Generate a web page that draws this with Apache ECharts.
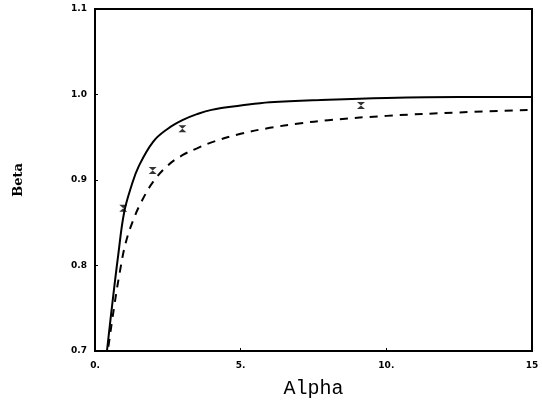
<!DOCTYPE html>
<html>
<head>
<meta charset="utf-8">
<script src="https://cdn.jsdelivr.net/npm/echarts@6/dist/echarts.min.js"></script>
<style>html,body{margin:0;padding:0;background:#fff;}#c{width:542px;height:404px;}</style>
</head>
<body>
<div id="c"></div>
<script>
// Solid curve
var alphaSolid = [0.41, 0.6, 0.8, 1.0, 1.25, 1.5, 2.0, 2.5, 3.0, 3.5, 4.0, 5.0, 6.0, 8.0, 10.0, 12.5, 15.0];
var betaSolid  = [0.700, 0.757, 0.813, 0.862, 0.893, 0.916, 0.945, 0.960, 0.970, 0.977, 0.982, 0.987, 0.991, 0.994, 0.996, 0.997, 0.997];
// Dashed curve
var alphaDash = [0.46, 0.65, 0.85, 1.05, 1.3, 1.6, 2.0, 2.5, 3.0, 3.5, 4.0, 5.0, 6.0, 7.0, 8.0, 10.0, 12.5, 15.0];
var betaDash  = [0.705, 0.750, 0.792, 0.826, 0.852, 0.875, 0.898, 0.917, 0.929, 0.937, 0.944, 0.954, 0.961, 0.966, 0.970, 0.975, 0.979, 0.982];
// Observed points
var alphaPts = [0.97, 1.98, 3.0, 9.13];
var betaPts  = [0.867, 0.911, 0.960, 0.987];
// Tick labels
var xTickLabels = {0: '0.', 5: '5.', 10: '10.', 15: '15'};

function zip(a, b) { return a.map(function (v, i) { return [v, b[i]]; }); }

var chart = echarts.init(document.getElementById('c'), null, {renderer: 'canvas'});
chart.setOption({
  animation: false,
  backgroundColor: '#fff',
  grid: {left: 95, right: 10, top: 9, bottom: 46, show: true, borderColor: '#000', borderWidth: 2, backgroundColor: 'transparent'},
  xAxis: {
    type: 'value', min: 0, max: 15, interval: 5,
    name: 'Alpha', nameLocation: 'middle', nameGap: 28,
    nameTextStyle: {fontFamily: 'Liberation Mono', fontSize: 20, color: '#000'},
    axisLine: {show: true, lineStyle: {color: '#000', width: 2}},
    axisTick: {show: true, inside: true, length: 3, lineStyle: {color: '#000', width: 1}},
    splitLine: {show: false},
    axisLabel: {
      margin: 10, color: '#000', fontFamily: 'DejaVu Sans', fontWeight: 'bold', fontSize: 9,
      formatter: function (v) { return xTickLabels[v] !== undefined ? xTickLabels[v] : ''; }
    }
  },
  yAxis: {
    type: 'value', min: 0.7, max: 1.1, interval: 0.1,
    name: 'Beta', nameLocation: 'middle', nameGap: 70, nameRotate: 90,
    nameTextStyle: {fontFamily: 'DejaVu Serif', fontWeight: 'bold', fontSize: 13, color: '#000'},
    axisLine: {show: true, lineStyle: {color: '#000', width: 2}},
    axisTick: {show: true, inside: true, length: 3, lineStyle: {color: '#000', width: 1}},
    splitLine: {show: false},
    axisLabel: {
      margin: 8, color: '#000', fontFamily: 'DejaVu Sans', fontWeight: 'bold', fontSize: 9,
      formatter: function (v) { return v.toFixed(1); }
    }
  },
  series: [
    {
      type: 'line', data: zip(alphaSolid, betaSolid), smooth: 0.4,
      showSymbol: false, clip: true,
      lineStyle: {color: '#000', width: 2, type: 'solid'}
    },
    {
      type: 'line', data: zip(alphaDash, betaDash), smooth: 0.4,
      showSymbol: false, clip: true,
      lineStyle: {color: '#000', width: 2, type: [8, 7]}
    },
    {
      type: 'scatter', data: zip(alphaPts, betaPts),
      symbol: 'path://M0,0 L10,0 L0,10 L10,10 Z', symbolSize: [8, 7],
      itemStyle: {color: '#000'}
    }
  ]
});
</script>
</body>
</html>
